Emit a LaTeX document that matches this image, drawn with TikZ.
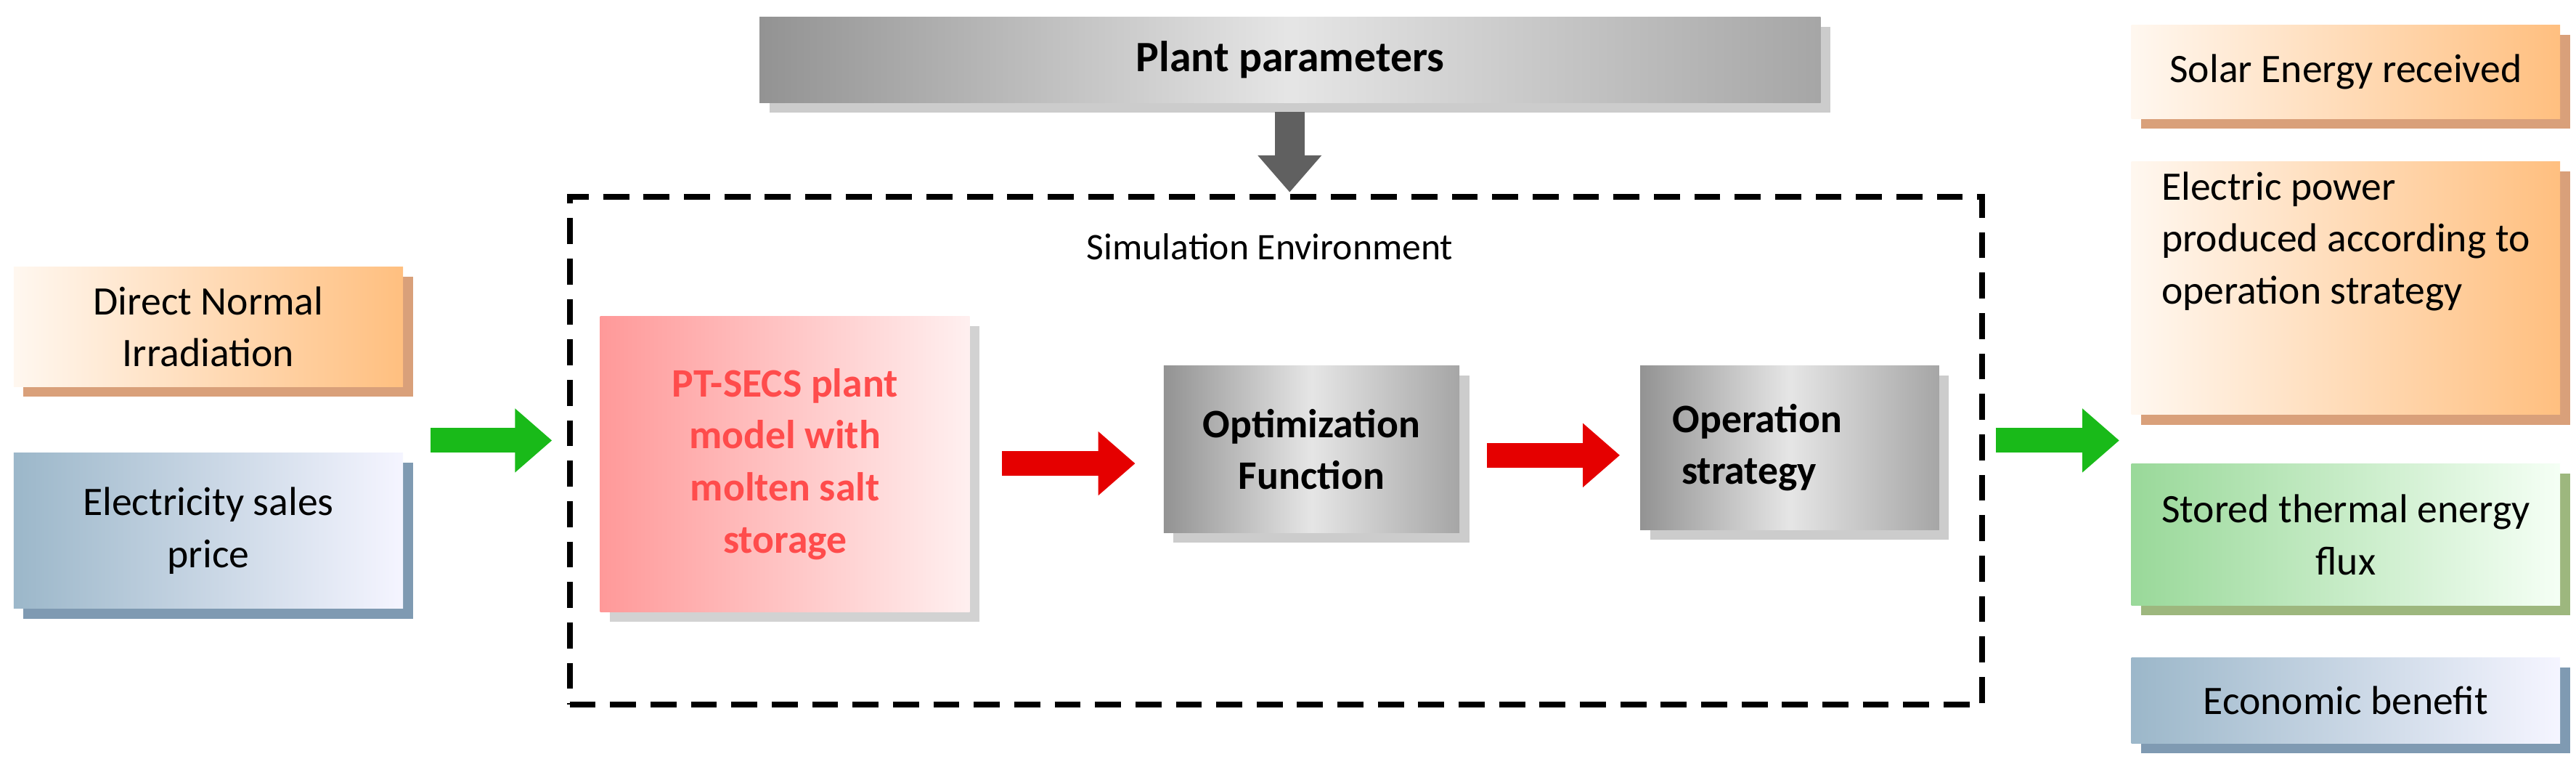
\documentclass[tikz,border=0pt]{standalone}
\usepackage{fontspec}
\setmainfont{Carlito}
\usetikzlibrary{arrows.meta,shadows}
\definecolor{osh}{HTML}{D9A07A}
\definecolor{bsh}{HTML}{7F9AB2}
\definecolor{gsh}{HTML}{9DB77E}
\begin{document}
\begin{tikzpicture}[x=0.02cm,y=-0.02cm,
  bx/.style={draw=none,inner sep=2pt,align=center,font=\fontsize{14}{18}\selectfont,anchor=north west},
  og/.style={bx,drop shadow={shadow xshift=0.12cm,shadow yshift=-0.12cm,fill=osh,opacity=1},shading angle=45,left color=orange!6,right color=orange!50},
  bl/.style={bx,drop shadow={shadow xshift=0.12cm,shadow yshift=-0.12cm,fill=bsh,opacity=1},shading angle=45,left color=blue!40!cyan!30!gray!60,right color=blue!4},
  gr/.style={bx,drop shadow={shadow xshift=0.12cm,shadow yshift=-0.12cm,fill=gsh,opacity=1},shading angle=45,left color=green!45!gray!55,right color=green!4},
  gy/.style={bx,font=\fontsize{14}{18}\selectfont\bfseries,drop shadow={shadow xshift=0.12cm,shadow yshift=-0.12cm,fill=gray!40,opacity=1},left color=gray!85,right color=gray!70,middle color=gray!20},
  pk/.style={bx,font=\fontsize{14}{18}\selectfont\bfseries,text=red!70!white,drop shadow={shadow xshift=0.12cm,shadow yshift=-0.12cm,fill=gray!35,opacity=1},shading angle=45,left color=red!40,right color=red!6},
  fat/.style={line width=0.3cm,-{Triangle[length=0.45cm,width=0.75cm]}}]
\useasboundingbox (0,0) rectangle (1568,476);
\node[gy,minimum width=12.92cm,minimum height=1.04cm] (pp) at (462,10) {\fontsize{15}{18}\selectfont Plant parameters};
\node[draw,dash pattern=on 9pt off 5pt,line width=2pt,anchor=north west,minimum width=17.2cm,minimum height=6.18cm] (sim) at (345,118) {};
\node[font=\fontsize{13}{16}\selectfont] (se) at (773,150) {Simulation Environment};
\node[pk,minimum width=4.5cm,minimum height=3.6cm] (pt) at (365,192) {PT-SECS plant\\model with\\molten salt\\storage};
\node[gy,minimum width=3.6cm,minimum height=2.04cm] (of) at (708,222) {Optimization\\Function};
\node[gy,minimum width=3.64cm,minimum height=2.0cm] (os) at (998,222) {Operation\hspace*{1.6em}\\strategy\hspace*{2.0em}};
\node[og,minimum width=4.74cm,minimum height=1.46cm] (dn) at (8,162) {Direct Normal\\Irradiation};
\node[bl,minimum width=4.74cm,minimum height=1.9cm] (ep) at (8,275) {Electricity sales\\price};
\node[og,minimum width=5.22cm,minimum height=1.14cm] (sr) at (1297,15) {Solar Energy received};
\node[og,minimum width=5.22cm,minimum height=3.08cm,align=left] (el) at (1297,98) {Electric power\\produced according to\\operation strategy\\[1.2em]};
\node[gr,minimum width=5.22cm,minimum height=1.72cm] (st) at (1297,282) {Stored thermal energy\\flux};
\node[bl,minimum width=5.22cm,minimum height=1.04cm] (eb) at (1297,400) {Economic benefit};
\coordinate (a1) at (785,68); \coordinate (a2) at (785,117);
\draw[fat,gray!75!black,line width=0.36cm] (a1) -- (a2);
\coordinate (g1) at (262,268); \coordinate (g2) at (336,268);
\draw[fat,green!70!black!90] (g1) -- (g2);
\coordinate (g3) at (1215,268); \coordinate (g4) at (1290,268);
\draw[fat,green!70!black!90] (g3) -- (g4);
\coordinate (r1) at (610,282); \coordinate (r2) at (691,282);
\draw[fat,red!90!black] (r1) -- (r2);
\coordinate (r3) at (905,277); \coordinate (r4) at (986,277);
\draw[fat,red!90!black] (r3) -- (r4);
\end{tikzpicture}
\end{document}
